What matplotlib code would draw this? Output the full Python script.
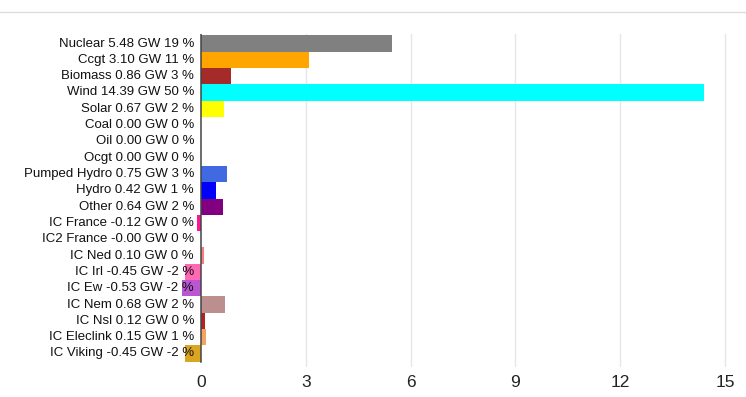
import matplotlib
matplotlib.use('Agg')
from matplotlib import pyplot as plt
from matplotlib.lines import Line2D
from matplotlib.transforms import offset_copy

plt.rcParams['font.family'] = ['Liberation Sans', 'DejaVu Sans']

# generation mix (GW and share), one row per source
sources = ['Nuclear', 'Ccgt', 'Biomass', 'Wind', 'Solar', 'Coal', 'Oil', 'Ocgt',
           'Pumped Hydro', 'Hydro', 'Other', 'IC France', 'IC2 France', 'IC Ned',
           'IC Irl', 'IC Ew', 'IC Nem', 'IC Nsl', 'IC Eleclink', 'IC Viking']
gw = [5.48, 3.10, 0.86, 14.39, 0.67, 0.00, 0.00, 0.00,
      0.75, 0.42, 0.64, -0.12, -0.00, 0.10,
      -0.45, -0.53, 0.68, 0.12, 0.15, -0.45]
share = [19, 11, 3, 50, 2, 0, 0, 0, 3, 1, 2, 0, 0, 0, -2, -2, 2, 0, 1, -2]
neg_zero = ['IC2 France']
colors = ['#808080', '#FFA500', '#A52A2A', '#00FFFF', '#FFFF00', '#000000', '#000000', '#000000',
          '#4169E1', '#0000FF', '#800080', '#FF1493', '#FF1493', '#F08080',
          '#FF69B4', '#BA55D3', '#BC8F8F', '#B22222', '#F4A460', '#DAA520']
xticks = [0, 3, 6, 9, 12, 15]

W, H = 746, 397
fig = plt.figure(figsize=(W / 100, H / 100), dpi=100)

# axes placed in pixels: x from -0.6 to 15.05, rows -0.6 .. 19.6
px_per_unit = (725 - 201) / 15
x0 = -0.6
x1 = 15.05
left = 201 + x0 * px_per_unit
right = 201 + x1 * px_per_unit
row_step = (353.5 - 43.5) / 19
top = 43.5 - 0.6 * row_step
bottom = 43.5 + 19.8 * row_step
ax = fig.add_axes([left / W, 1 - bottom / H, (right - left) / W, (bottom - top) / H])

rows = list(range(len(sources)))
ax.barh(rows, gw, height=1.0, color=colors, zorder=2)
ax.set_xlim(x0, x1)
ax.set_ylim(len(sources) - 0.2, -0.6)

for s in ax.spines.values():
    s.set_visible(False)
ax.plot([0, 0], [-0.6, len(sources) - 0.5], color='#444444', lw=1.1, zorder=3)
for t in xticks[1:]:
    ax.axvline(t, color='#e6e6e6', lw=1, zorder=1)

ax.set_yticks([])
ax.set_xticks(xticks)
ax.set_xticklabels([str(t) for t in xticks], fontsize=12.5, color='#222222')
ax.tick_params(axis='x', length=0, pad=6)

trans = offset_copy(ax.transData, fig=fig, x=-7, y=0, units='dots')
for i, name in enumerate(sources):
    val = '-0.00' if name in neg_zero else '%.2f' % gw[i]
    ax.text(0, i, '%s %s GW %d %%' % (name, val, share[i]), transform=trans,
            ha='right', va='center', fontsize=9.5, color='#111111', zorder=5)

fig.add_artist(Line2D([0, 1], [1 - 12 / H, 1 - 12 / H], color='#dddddd', lw=1))

fig.savefig('out.png', dpi=100)
